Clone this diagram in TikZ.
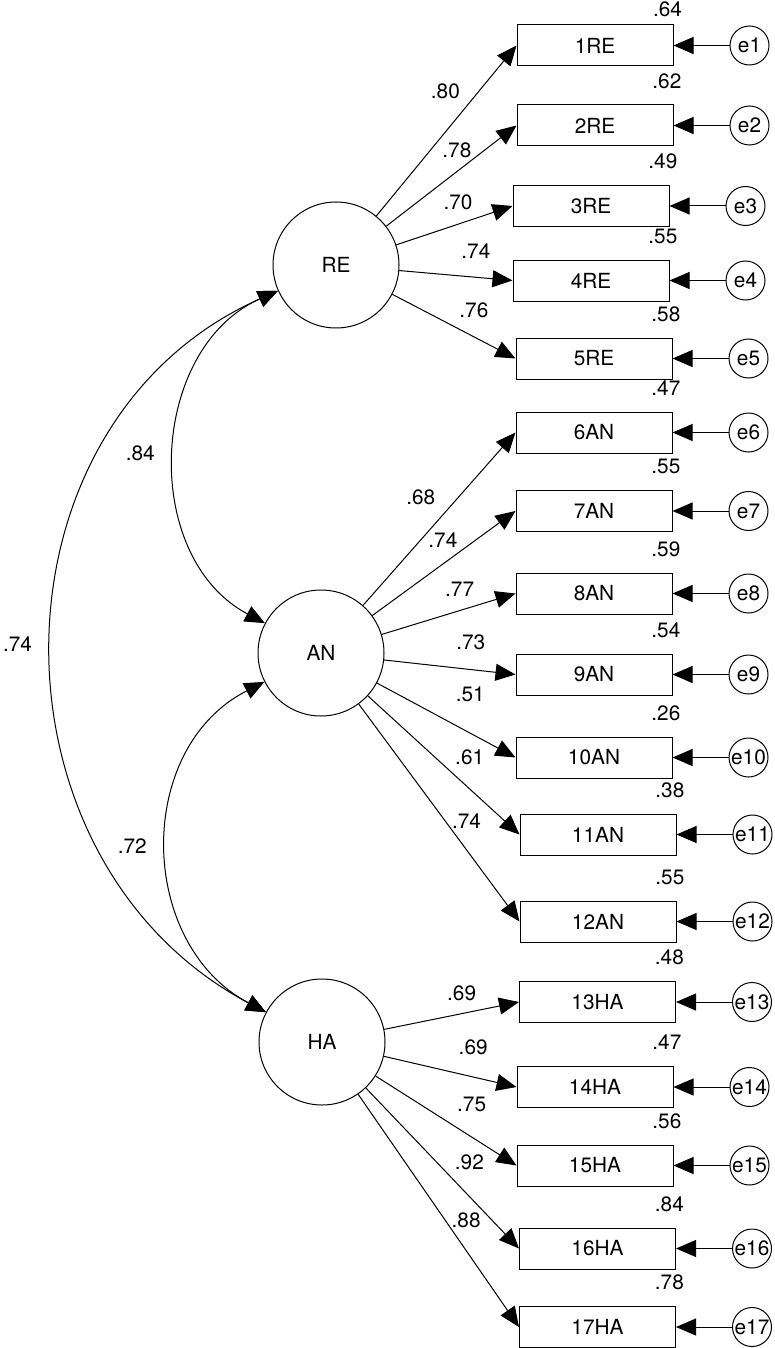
\documentclass[tikz,border=0pt]{standalone}
\usepackage{fontspec}
\setmainfont{TeX Gyre Heros}
\usetikzlibrary{arrows.meta, positioning}

\begin{document}
\begin{tikzpicture}[x=0.5pt, y=0.5pt, line width=0.5pt,
  font=\fontsize{10.4}{12}\selectfont,
  latent/.style={draw, circle, minimum size=63pt, inner sep=0pt},
  indic/.style={draw, minimum width=78pt, minimum height=20.5pt, inner sep=0pt},
  err/.style={draw, circle, minimum size=19.5pt, inner sep=0pt},
  loading/.style={-{Triangle[length=10pt, width=8.5pt]}},
  cov/.style={{Triangle[length=10pt, width=8.5pt]}-{Triangle[length=10pt, width=8.5pt]}}
  ]

  \useasboundingbox (0,0) rectangle (775,-1348);

  \draw node[latent] (RE) at (336,-265) {RE}
  node[latent] (AN) at (321,-653) {AN}
  node[latent] (HA) at (322,-1042) {HA};

  % indicators with their errors and squared loadings
  \draw node[indic] (i1) at (595,-45.5) {1RE} node[err, right=28pt of i1] (e1) {e1} node[above=0.5pt of i1.north east, xshift=-3pt] {.64};
  \draw node[indic] (i2) at (595,-125.5) {2RE} node[err, right=28pt of i2] (e2) {e2} node[above=4.5pt of i2.north east, xshift=-3.3pt] {.62};
  \draw node[indic] (i3) at (591,-206) {3RE} node[err, right=28pt of i3] (e3) {e3} node[above=4.5pt of i3.north east, xshift=-3.3pt] {.49};
  \draw node[indic] (i4) at (591,-280.5) {4RE} node[err, right=28pt of i4] (e4) {e4} node[above=4.5pt of i4.north east, xshift=-3.3pt] {.55};
  \draw node[indic] (i5) at (594,-358.5) {5RE} node[err, right=28pt of i5] (e5) {e5} node[above=4.5pt of i5.north east, xshift=-3.3pt] {.58};
  \draw node[indic] (i6) at (594,-432.5) {6AN} node[err, right=28pt of i6] (e6) {e6} node[above=4.5pt of i6.north east, xshift=-3.3pt] {.47};
  \draw node[indic] (i7) at (594,-511) {7AN} node[err, right=28pt of i7] (e7) {e7} node[above=4.5pt of i7.north east, xshift=-3.3pt] {.55};
  \draw node[indic] (i8) at (594,-593.5) {8AN} node[err, right=28pt of i8] (e8) {e8} node[above=4.5pt of i8.north east, xshift=-3.3pt] {.59};
  \draw node[indic] (i9) at (594,-674.5) {9AN} node[err, right=28pt of i9] (e9) {e9} node[above=4.5pt of i9.north east, xshift=-3.3pt] {.54};
  \draw node[indic] (i10) at (594,-757.5) {10AN} node[err, right=28pt of i10] (e10) {e10} node[above=4.5pt of i10.north east, xshift=-3.3pt] {.26};
  \draw node[indic] (i11) at (598,-834.5) {11AN} node[err, right=28pt of i11] (e11) {e11} node[above=4.5pt of i11.north east, xshift=-3.3pt] {.38};
  \draw node[indic] (i12) at (598,-921.5) {12AN} node[err, right=28pt of i12] (e12) {e12} node[above=4.5pt of i12.north east, xshift=-3.3pt] {.55};
  \draw node[indic] (i13) at (597.5,-1002) {13HA} node[err, right=28pt of i13] (e13) {e13} node[above=4.5pt of i13.north east, xshift=-3.3pt] {.48};
  \draw node[indic] (i14) at (595,-1087) {14HA} node[err, right=28pt of i14] (e14) {e14} node[above=4.5pt of i14.north east, xshift=-3.3pt] {.47};
  \draw node[indic] (i15) at (595,-1165.5) {15HA} node[err, right=28pt of i15] (e15) {e15} node[above=4.5pt of i15.north east, xshift=-3.3pt] {.56};
  \draw node[indic] (i16) at (597.5,-1248.5) {16HA} node[err, right=28pt of i16] (e16) {e16} node[above=4.5pt of i16.north east, xshift=-3.3pt] {.84};
  \draw node[indic] (i17) at (597.5,-1327) {17HA} node[err, right=28pt of i17] (e17) {e17} node[above=4.5pt of i17.north east, xshift=-3.3pt] {.78};

  \path[loading] (e1) edge (i1) (e2) edge (i2) (e3) edge (i3) (e4) edge (i4)
  (e5) edge (i5) (e6) edge (i6) (e7) edge (i7) (e8) edge (i8) (e9) edge (i9)
  (e10) edge (i10) (e11) edge (i11) (e12) edge (i12) (e13) edge (i13)
  (e14) edge (i14) (e15) edge (i15) (e16) edge (i16) (e17) edge (i17);

  % factor loadings
  \path[loading] (RE) edge node[midway, xshift=-0.5pt, yshift=19.5pt] {.80} (i1.west)
  (RE) edge node[midway, xshift=2.75pt, yshift=13pt] {.78} (i2.west)
  (RE) edge node[midway, xshift=1.8pt, yshift=11.8pt] {.70} (i3.west)
  (RE) edge node[midway, xshift=10pt, yshift=12.25pt] {.74} (i4.west)
  (RE) edge node[midway, xshift=10pt, yshift=8.15pt] {.76} (i5.west);

  \path[loading] (AN) edge node[midway, xshift=-9.2pt, yshift=11pt] {.68} (i6.west)
  (AN) edge node[midway, xshift=-0.5pt, yshift=11.75pt] {.74} (i7.west)
  (AN) edge node[midway, xshift=5.5pt, yshift=12.25pt] {.77} (i8.west)
  (AN) edge node[midway, xshift=10.5pt, yshift=12.5pt] {.73} (i9.west)
  (AN) edge node[midway, xshift=12pt, yshift=13pt] {.51} (i10.west)
  (AN) edge node[midway, xshift=13pt, yshift=4pt] {.61} (i11.west)
  (AN) edge node[midway, xshift=13.7pt, yshift=-4pt] {.74} (i12.west);

  \path[loading] (HA) edge node[midway, xshift=5pt, yshift=11.35pt] {.69} (i13.west)
  (HA) edge node[midway, xshift=11.5pt, yshift=12pt] {.69} (i14.west)
  (HA) edge node[midway, xshift=12.8pt, yshift=8.3pt] {.75} (i15.west)
  (HA) edge node[midway, xshift=13.5pt, yshift=3pt] {.92} (i16.west)
  (HA) edge node[midway, xshift=13.8pt, yshift=-4.8pt] {.88} (i17.west);

  % correlations
  \draw[cov] (RE) to[out=204, in=152, looseness=1.09] node[midway, left=7pt] {.84} (AN);
  \draw[cov] (AN) to[out=207, in=152, looseness=1.13] node[midway, left=7pt] {.72} (HA);
  \draw[cov] (RE) to[out=204, in=152, looseness=1.15] node[midway, left=7pt] {.74} (HA);
\end{tikzpicture}
\end{document}
